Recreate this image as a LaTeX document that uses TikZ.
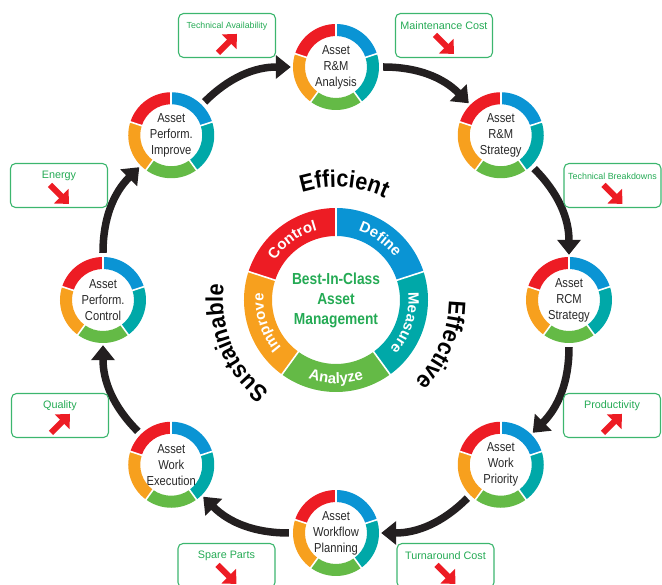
\documentclass[tikz,border=0pt]{standalone}
\usepackage{fontspec}
\setmainfont{Liberation Sans}
\newfontfamily\condfont{Liberation Sans}[FakeStretch=0.86]
\newfontfamily\wordfont{Liberation Sans}[FakeStretch=0.9]
\usetikzlibrary{arrows.meta,decorations.text}

\definecolor{segred}{RGB}{237,28,36}
\definecolor{segblue}{RGB}{10,148,212}
\definecolor{segteal}{RGB}{0,168,168}
\definecolor{seggreen}{RGB}{100,186,70}
\definecolor{segorange}{RGB}{247,160,30}
\definecolor{kpigreen}{RGB}{36,170,84}
\definecolor{kpiborder}{RGB}{60,182,110}
\definecolor{ringgray}{RGB}{40,40,40}
\definecolor{arrowblack}{RGB}{35,31,32}

\tikzset{
	ringnode/.style={circle, minimum size=86pt, inner sep=0pt, align=center, text=ringgray, font=\condfont\fontsize{13}{16}\selectfont},
	centrenode/.style={circle, minimum size=184pt, inner sep=0pt, align=center, text=kpigreen, font=\condfont\bfseries\fontsize{16}{20}\selectfont},
	segcut/.style={draw=white, line width=1.6pt},
	segtext/.style={decorate, decoration={text along path, text align=center, text={|\color{white}\bfseries\fontsize{15}{17}\selectfont|#1}}},
	wordtext/.style={decorate, decoration={text along path, text align=center, text={|\color{black}\wordfont\bfseries\fontsize{24}{28}\selectfont|#1}}},
	bigarrow/.style={draw=arrowblack, line width=7.5pt, -{Triangle[length=15pt,width=23pt]}, shorten <=4pt, shorten >=2pt, bend left=22.5},
	kpibox/.style={rectangle, rounded corners=5pt, draw=kpiborder, line width=1.1pt, minimum width=97pt, minimum height=44pt},
	kpitext/.style={inner sep=0pt, text=kpigreen},
	kpiarrow/.style={draw=segred, line width=6pt, -{Triangle[length=11pt,width=20pt]}}
}

% five coloured pieces round a named node: node, inner radius, outer radius
\newcommand\ringsegments[3]{%
	\foreach \sa/\sc in {90/segblue,18/segteal,-54/seggreen,-126/segorange,-198/segred}
		\fill[\sc] ([shift={(\sa:#3)}]#1.center) arc (\sa:\sa-72:#3) -- ([shift={(\sa-72:#2)}]#1.center) arc (\sa-72:\sa:#2) -- cycle;
	\foreach \sa in {90,18,-54,-126,-198}
		\draw[segcut] ([shift={(\sa:#2-1)}]#1.center) -- ([shift={(\sa:#3+1)}]#1.center);
}

% kpi box: name, position, label, font size, arrow direction (1 up, -1 down)
\newcommand\kpi[5]{%
	\node[kpibox] (#1) at (#2) {};
	\node[kpitext, font=\fontsize{#4}{#4}\selectfont] (#1-lbl) at ([yshift=-13pt]#1.north) {#3};
	\draw[kpiarrow] ([shift={(-9,{-31-9*(#5)})}]#1.north) -- ([shift={(10,{-31+10*(#5)})}]#1.north);
}

\begin{document}
\begin{tikzpicture}[x=1pt,y=1pt]
		\useasboundingbox (-336,-285) rectangle (326,300);
		% centre ring
			\node[centrenode] (bic) at (0,0) {Best-In-Class\\Asset\\Management};
			\ringsegments{bic}{64}{92}
			\path[segtext={Control}] (166:72.5) arc (166:86:72.5);
			\path[segtext={Define}] (94:72.5) arc (94:14:72.5);
			\path[segtext={Measure}] (22:72.5) arc (22:-58:72.5);
			\path[segtext={Analyze}] (-130:83.5) arc (-130:-50:83.5);
			\path[segtext={Improve}] (238:72.5) arc (238:158:72.5);
		% words
			\path[wordtext={Efficient}] (136:113) arc (136:36:113);
			\path[wordtext={Effective}] (27:113) arc (27:-73:113);
			\path[wordtext={Sustainable}] (253:113) arc (253:153:113);
		% rings
			\foreach \ang/\nm/\txt in {90/rmanalysis/{Asset\\R\&M\\Analysis},
					45/rmstrategy/{Asset\\R\&M\\Strategy},
					0/rcmstrategy/{Asset\\RCM\\Strategy},
					-45/workpriority/{Asset\\Work\\Priority},
					-90/workflowplanning/{Asset\\Workflow\\Planning},
					-135/workexecution/{Asset\\Work\\Execution},
					180/perfcontrol/{Asset\\Perform.\\Control},
					135/perfimprove/{Asset\\Perform.\\Improve}} {
				\node[ringnode] (\nm) at (\ang:233) {\txt};
				\ringsegments{\nm}{31}{43}
			}
		% arrows
			\draw[bigarrow] (perfimprove) to (rmanalysis);
			\draw[bigarrow] (rmanalysis) to (rmstrategy);
			\draw[bigarrow] (rmstrategy) to (rcmstrategy);
			\draw[bigarrow] (rcmstrategy) to (workpriority);
			\draw[bigarrow] (workpriority) to (workflowplanning);
			\draw[bigarrow] (workflowplanning) to (workexecution);
			\draw[bigarrow] (workexecution) to (perfcontrol);
			\draw[bigarrow] (perfcontrol) to (perfimprove);
		% kpi boxes
			\kpi{techavail}{-109,264.5}{Technical Availability}{8.8}{1}
			\kpi{maintcost}{108,264.5}{Maintenance Cost}{10.8}{-1}
			\kpi{energy}{-277,114.5}{Energy}{10.8}{-1}
			\kpi{techbreak}{276.5,114.5}{Technical Breakdowns}{8.9}{-1}
			\kpi{quality}{-276,-115.5}{Quality}{10.8}{1}
			\kpi{productivity}{276,-115.5}{Productivity}{10.8}{1}
			\kpi{spareparts}{-109.5,-265.5}{Spare Parts}{10.8}{-1}
			\kpi{turnaround}{109.5,-265.5}{Turnaround Cost}{10.8}{-1}
\end{tikzpicture}
\end{document}
